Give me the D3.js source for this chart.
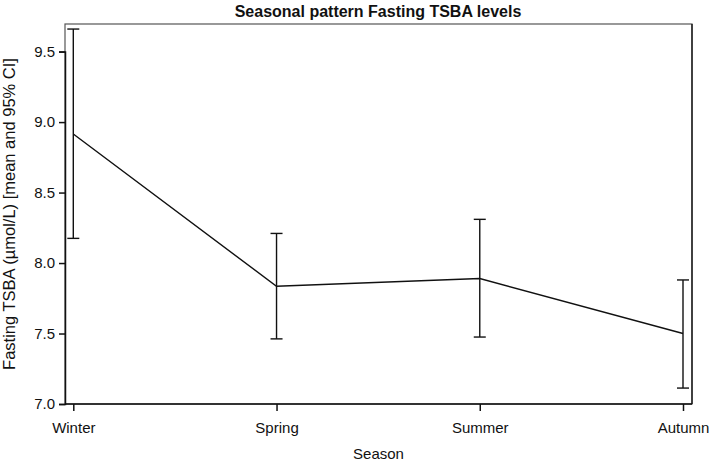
<!DOCTYPE html>
<html>
<head>
<meta charset="utf-8">
<script src="https://cdn.jsdelivr.net/npm/d3@7"></script>
<style>
  html, body { margin: 0; padding: 0; background: #fff; }
  svg { display: block; }
  text { font-family: "Liberation Sans", Arial, sans-serif; fill: #111; }
</style>
</head>
<body>
<div id="chart"></div>
<script>
const seasons = ["Winter", "Spring", "Summer", "Autumn"];
const means = [8.915, 7.835, 7.89, 7.50];
const lower = [8.175, 7.462, 7.475, 7.113];
const upper = [9.66, 8.21, 8.31, 7.88];
const yTicks = [7.0, 7.5, 8.0, 8.5, 9.0, 9.5];

const W = 709, H = 462;
const frame = { left: 65, right: 692, top: 24, bottom: 404 };

const svg = d3.select("#chart").append("svg").attr("width", W).attr("height", H);

const x = d3.scalePoint().domain(seasons).range([73.3, 683]);
const y = d3.scaleLinear().domain([7.0, 9.5]).range([frame.bottom, 51.6]);

// frame
svg.append("rect")
  .attr("x", frame.left).attr("y", frame.top)
  .attr("width", frame.right - frame.left).attr("height", frame.bottom - frame.top)
  .attr("fill", "none").attr("stroke", "#555").attr("stroke-width", 1.2);

// y axis
const yAxis = svg.append("g").attr("transform", `translate(${frame.left},0)`)
  .call(d3.axisLeft(y).tickValues(yTicks).tickFormat(d3.format(".1f")).tickSize(6).tickPadding(4));
yAxis.select(".domain").attr("stroke", "#111").attr("stroke-width", 1.5);
yAxis.selectAll(".tick line").attr("stroke", "#111").attr("stroke-width", 1.5);
yAxis.selectAll(".tick text").attr("font-size", 15).attr("font-family", "Liberation Sans, Arial, sans-serif").attr("fill", "#111");

// x axis
const xAxis = svg.append("g").attr("transform", `translate(0,${frame.bottom})`)
  .call(d3.axisBottom(x).tickSize(7).tickPadding(11));
xAxis.select(".domain").attr("stroke", "#111").attr("stroke-width", 1.5)
  .attr("d", `M${frame.left},0H${frame.right}`);
xAxis.selectAll(".tick line").attr("stroke", "#111").attr("stroke-width", 1.5);
xAxis.selectAll(".tick text").attr("font-size", 15).attr("font-family", "Liberation Sans, Arial, sans-serif").attr("fill", "#111");

// right frame line darker
svg.append("line").attr("x1", frame.right).attr("x2", frame.right)
  .attr("y1", frame.top).attr("y2", frame.bottom)
  .attr("stroke", "#111").attr("stroke-width", 1.3);

// error bars
const cap = 6;
const eb = svg.append("g").attr("stroke", "#111").attr("stroke-width", 1.4).attr("fill", "none");
seasons.forEach((s, i) => {
  const cx = x(s);
  eb.append("line").attr("x1", cx).attr("x2", cx).attr("y1", y(lower[i])).attr("y2", y(upper[i]));
  eb.append("line").attr("x1", cx - cap).attr("x2", cx + cap).attr("y1", y(upper[i])).attr("y2", y(upper[i]));
  eb.append("line").attr("x1", cx - cap).attr("x2", cx + cap).attr("y1", y(lower[i])).attr("y2", y(lower[i]));
});

// mean line
const line = d3.line().x((d, i) => x(seasons[i])).y(d => y(d));
svg.append("path").datum(means).attr("d", line)
  .attr("fill", "none").attr("stroke", "#111").attr("stroke-width", 1.4);

// title
svg.append("text").attr("x", 378).attr("y", 17).attr("text-anchor", "middle")
  .attr("font-size", 16).attr("font-weight", "bold").text("Seasonal pattern Fasting TSBA levels");

// axis titles
svg.append("text").attr("x", (frame.left + frame.right) / 2).attr("y", 459).attr("text-anchor", "middle")
  .attr("font-size", 15).text("Season");
svg.append("text").attr("transform", `translate(15,${(frame.top + frame.bottom) / 2}) rotate(-90)`)
  .attr("text-anchor", "middle").attr("font-size", 16.5)
  .text("Fasting TSBA (µmol/L) [mean and 95% CI]");
</script>
</body>
</html>
